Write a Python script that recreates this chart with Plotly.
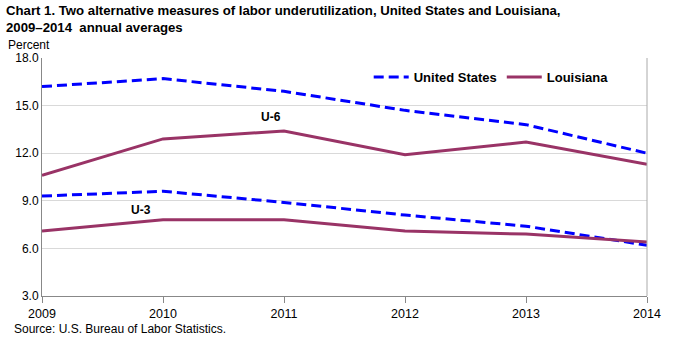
import plotly.graph_objects as go

years = [2009, 2010, 2011, 2012, 2013, 2014]
us_u6 = [16.2, 16.7, 15.9, 14.7, 13.8, 12.0]
us_u3 = [9.3, 9.6, 8.9, 8.1, 7.4, 6.2]
la_u6 = [10.6, 12.9, 13.4, 11.9, 12.7, 11.3]
la_u3 = [7.1, 7.8, 7.8, 7.1, 6.9, 6.4]
y_ticks = [3.0, 6.0, 9.0, 12.0, 15.0, 18.0]

BLUE = "#0000FF"
MAROON = "#993366"
FONT = "Liberation Sans, Arial, sans-serif"

fig = go.Figure()
fig.add_trace(go.Scatter(x=years, y=us_u6, mode="lines", name="United States",
                         line=dict(color=BLUE, width=3, dash="10px,5px"), showlegend=True))
fig.add_trace(go.Scatter(x=years, y=la_u6, mode="lines", name="Louisiana",
                         line=dict(color=MAROON, width=3), showlegend=True))
fig.add_trace(go.Scatter(x=years, y=us_u3, mode="lines", name="United States",
                         line=dict(color=BLUE, width=3, dash="10px,5px"), showlegend=False))
fig.add_trace(go.Scatter(x=years, y=la_u3, mode="lines", name="Louisiana",
                         line=dict(color=MAROON, width=3), showlegend=False))

fig.update_layout(
    width=673, height=342,
    margin=dict(l=42, r=24, t=58, b=46),
    paper_bgcolor="white", plot_bgcolor="white",
    font=dict(family=FONT, size=12, color="black"),
    showlegend=True,
    legend=dict(orientation="h", x=0.54, y=0.92, xanchor="left", yanchor="middle",
                font=dict(family=FONT, size=13, color="black", weight="bold"),
                bgcolor="rgba(0,0,0,0)", itemwidth=35, traceorder="normal"),
    xaxis=dict(range=[2009, 2014], tickvals=years, ticktext=[str(y) for y in years],
               showgrid=False, showline=True, linecolor="#888888", linewidth=1,
               ticks="outside", ticklen=6, tickcolor="#888888",
               tickfont=dict(family=FONT, size=12.5), zeroline=False, fixedrange=True),
    yaxis=dict(range=[3, 18], tickvals=y_ticks, ticktext=["%.1f" % v for v in y_ticks],
               showgrid=True, gridcolor="#D9D9D9", gridwidth=1,
               showline=True, linecolor="#888888", linewidth=1,
               ticks="", tickfont=dict(family=FONT, size=12), zeroline=False,
               mirror=False, fixedrange=True),
    annotations=[
        dict(text="<b>Chart 1. Two alternative measures of labor underutilization, United States and Louisiana,<br>2009–2014  annual averages</b>",
             x=0, y=1, xref="paper", yref="paper", xanchor="left", yanchor="top",
             xshift=-38, yshift=57, showarrow=False, align="left",
             font=dict(family=FONT, size=13.2, color="black")),
        dict(text="Percent", x=0, y=1, xref="paper", yref="paper", xanchor="left",
             yanchor="bottom", xshift=-36, yshift=4, showarrow=False,
             font=dict(family=FONT, size=12, color="black")),
        dict(text="Source: U.S. Bureau of Labor Statistics.", x=0, y=0, xref="paper",
             yref="paper", xanchor="left", yanchor="top", xshift=-30, yshift=-24,
             showarrow=False, font=dict(family=FONT, size=12, color="black")),
        dict(text="<b>U-6</b>", x=2010.89, y=14.3, xref="x", yref="y", showarrow=False,
             font=dict(family=FONT, size=12, color="black")),
        dict(text="<b>U-3</b>", x=2009.82, y=8.4, xref="x", yref="y", showarrow=False,
             font=dict(family=FONT, size=12, color="black")),
    ],
    shapes=[dict(type="line", xref="paper", yref="paper", x0=1, x1=1, y0=0, y1=1,
                 line=dict(color="#AAAAAA", width=1))],
)

fig.write_html("out.html")
